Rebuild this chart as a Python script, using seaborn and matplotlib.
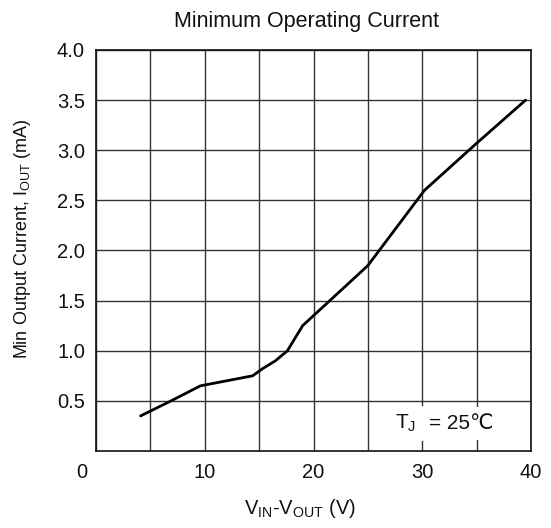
import numpy as np
import pandas as pd
import matplotlib
matplotlib.use("Agg")
import matplotlib.pyplot as plt
import matplotlib.transforms as mtransforms
import seaborn as sns

# values
vdiff = [4.1, 6.9, 9.6, 14.4, 15.3, 16.5, 17.6, 19.0, 25.0, 30.2, 34.9, 39.5]
i_min = [0.35, 0.50, 0.65, 0.75, 0.82, 0.90, 1.00, 1.25, 1.85, 2.60, 3.06, 3.50]

x_ticks = [0, 10, 20, 30, 40]
x_grid = [0, 5, 10, 15, 20, 25, 30, 35, 40]
y_ticks = [0.5, 1.0, 1.5, 2.0, 2.5, 3.0, 3.5, 4.0]

df = pd.DataFrame({"vdiff": vdiff, "i_min": i_min})

sns.set_style("white")
plt.rcParams["font.family"] = ["Liberation Sans", "DejaVu Sans"]
plt.rcParams["mathtext.fontset"] = "custom"
plt.rcParams["mathtext.rm"] = "Liberation Sans"

W, H = 551, 528
fig = plt.figure(figsize=(W / 100, H / 100), dpi=100)
ax = fig.add_axes([96 / W, 1 - 451 / H, 435 / W, 401 / H])

sns.lineplot(data=df, x="vdiff", y="i_min", ax=ax, color="black", linewidth=2.0,
             sort=False, zorder=3)

ax.set_xlim(0, 40)
ax.set_ylim(0, 4.0)
ax.set_xticks(x_grid, minor=True)
ax.set_xticks(x_ticks)
ax.set_yticks(y_ticks)
ax.set_yticklabels([f"{v:.1f}" for v in y_ticks])
ax.tick_params(axis="both", which="both", length=0, labelsize=14.5, colors="#111111")
ax.tick_params(axis="x", pad=9)
ax.tick_params(axis="y", pad=8)
ax.grid(True, which="both", axis="x", color="#333333", linewidth=1.0)
ax.grid(True, which="major", axis="y", color="#333333", linewidth=1.0)
ax.set_axisbelow(True)
for sp in ax.spines.values():
    sp.set_color("#111111")
    sp.set_linewidth(1.2)
ax.set_xlabel("")
ax.set_ylabel("")

# the "0" label sits a bit left of the axis corner
lbl0 = ax.get_xticklabels()[0]
lbl0.set_transform(lbl0.get_transform() +
                   mtransforms.ScaledTranslation(-14 / 100, 0, fig.dpi_scale_trans))

# temperature note, split so the degree sign can fall back to DejaVu Sans
box = dict(facecolor="white", edgecolor="none", pad=5)
ax.text(27.5, 0.22, r"T$\mathregular{_J}$", fontsize=15, va="baseline",
        ha="left", color="#111111", zorder=4, bbox=box)
ax.text(30.6, 0.22, "= 25℃", fontsize=15, va="baseline",
        ha="left", color="#111111", zorder=4, bbox=box)

fig.text(307 / W, 1 - 22 / H, "Minimum Operating Current", fontsize=15.5,
         ha="center", va="center", color="#111111")
fig.text(300 / W, 1 - 508 / H, r"V$\mathregular{_{IN}}$-V$\mathregular{_{OUT}}$ (V)",
         fontsize=14.5, ha="center", va="center", color="#111111")
fig.text(23 / W, 1 - 239 / H, r"Min Output Current, I$\mathregular{_{OUT}}$ (mA)",
         fontsize=13, ha="center", va="center", rotation=90, color="#111111")

fig.savefig("out.png", dpi=100)
